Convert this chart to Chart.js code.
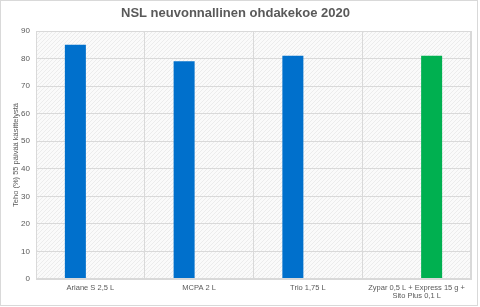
<!DOCTYPE html>
<html>
<head>
<meta charset="utf-8">
<script src="https://cdn.jsdelivr.net/npm/chart.js@4"></script>
<style>
html,body{margin:0;padding:0;background:#fff;}
#wrap{width:480px;height:307px;position:relative;}
</style>
</head>
<body>
<div id="wrap"><canvas id="c" width="480" height="307"></canvas></div>
<script>
const chartTitle = "NSL neuvonnallinen ohdakekoe 2020";
const yAxisTitle = "Teho (%) 55 päivää käsittelystä";
const categories = ["Ariane S 2,5 L", "MCPA 2 L", "Trio 1,75 L", ["Zypar 0,5 L + Express 15 g +", "Sito Plus 0,1 L"]];
const blueValues = [85, 79, 81, null];
const greenValues = [null, null, null, 81];
const yTicks = [0, 10, 20, 30, 40, 50, 60, 70, 80, 90];

const FONT = "'Liberation Sans', Arial, sans-serif";
const GRAY = "#595959";
const GRID = "#d9d9d9";

function makePattern(ctx) {
  const p = document.createElement('canvas');
  p.width = 4; p.height = 4;
  const g = p.getContext('2d');
  g.fillStyle = '#fafafa';
  g.fillRect(0, 0, 4, 4);
  g.fillStyle = '#ececec';
  for (let i = 0; i < 4; i++) g.fillRect(i, 3 - i, 1, 1);
  return ctx.createPattern(p, 'repeat');
}

const bgPlugin = {
  id: 'bgPlugin',
  beforeDraw(chart) {
    const {ctx, chartArea: a} = chart;
    ctx.save();
    ctx.fillStyle = makePattern(ctx);
    ctx.fillRect(a.left, a.top, a.right - a.left, a.bottom - a.top);
    ctx.restore();
  },
  afterDraw(chart) {
    const {ctx, chartArea: a} = chart;
    ctx.save();
    ctx.strokeStyle = GRID;
    ctx.lineWidth = 1;
    ctx.strokeRect(0.5, 0.5, 477, 305);
    ctx.strokeRect(Math.round(a.left) + 0.5, Math.round(a.top) + 0.5, Math.round(a.right - a.left) - 1, Math.round(a.bottom - a.top) - 1);
    ctx.translate(15.5, (a.top + a.bottom) / 2);
    ctx.rotate(-Math.PI / 2);
    ctx.fillStyle = GRAY;
    ctx.font = "7.5px " + FONT;
    ctx.textAlign = 'center';
    ctx.textBaseline = 'middle';
    ctx.fillText(yAxisTitle, 0, 0);
    ctx.restore();
  }
};

new Chart(document.getElementById('c'), {
  type: 'bar',
  data: {
    labels: categories,
    datasets: [
      {data: blueValues, backgroundColor: '#0070CC', categoryPercentage: 0.552, barPercentage: 0.7},
      {data: greenValues, backgroundColor: '#00B050', categoryPercentage: 0.552, barPercentage: 0.7}
    ]
  },
  options: {
    responsive: false,
    animation: false,
    layout: {padding: {left: 0, right: 9, top: 0, bottom: 0}},
    plugins: {
      legend: {display: false},
      tooltip: {enabled: false},
      title: {
        display: true,
        text: chartTitle,
        color: GRAY,
        font: {family: FONT, size: 13, weight: 'bold'},
        padding: {top: 6, bottom: 9.4}
      }
    },
    scales: {
      x: {
        grid: {color: GRID, offset: true, drawTicks: false},
        border: {color: GRID},
        ticks: {color: GRAY, font: {family: FONT, size: 7.5, lineHeight: 1.1}, maxRotation: 0, autoSkip: false, padding: 5},
        afterFit(s) { s.height = 28; }
      },
      y: {
        min: 0, max: 90,
        afterBuildTicks(s) { s.ticks = yTicks.map(v => ({value: v})); },
        grid: {color: GRID, drawTicks: false},
        border: {color: GRID},
        ticks: {color: GRAY, font: {family: FONT, size: 8}, padding: 6},
        afterFit(s) { s.width = 36; }
      }
    }
  },
  plugins: [bgPlugin]
});
</script>
</body>
</html>
